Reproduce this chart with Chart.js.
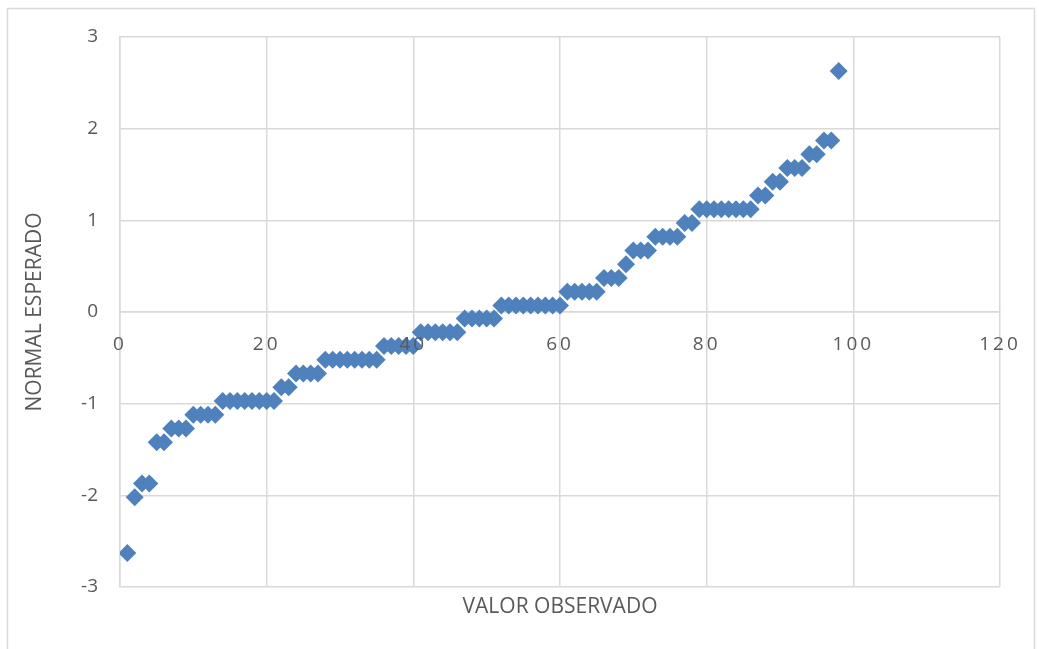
<!DOCTYPE html>
<html><head><meta charset="utf-8">
<script src="https://cdn.jsdelivr.net/npm/chart.js@4.4.1/dist/chart.umd.min.js"></script>
<style>html,body{margin:0;padding:0;background:#fff;overflow:hidden;}</style>
</head><body>
<canvas id="c" width="1039" height="649"></canvas>
<script>
const observed = [1,2,3,4,5,6,7,8,9,10,11,12,13,14,15,16,17,18,19,20,21,22,23,24,25,26,27,28,29,30,31,32,33,34,35,36,37,38,39,40,41,42,43,44,45,46,47,48,49,50,51,52,53,54,55,56,57,58,59,60,61,62,63,64,65,66,67,68,69,70,71,72,73,74,75,76,77,78,79,80,81,82,83,84,85,86,87,88,89,90,91,92,93,94,95,96,97,98];
const expected = [-2.63,-2.02,-1.87,-1.87,-1.42,-1.42,-1.27,-1.27,-1.27,-1.12,-1.12,-1.12,-1.12,
  -0.97,-0.97,-0.97,-0.97,-0.97,-0.97,-0.97,-0.97,-0.82,-0.82,-0.67,-0.67,-0.67,-0.67,
  -0.52,-0.52,-0.52,-0.52,-0.52,-0.52,-0.52,-0.52,-0.37,-0.37,-0.37,-0.37,-0.37,
  -0.22,-0.22,-0.22,-0.22,-0.22,-0.22,-0.07,-0.07,-0.07,-0.07,-0.07,
  0.07,0.07,0.07,0.07,0.07,0.07,0.07,0.07,0.07,0.22,0.22,0.22,0.22,0.22,
  0.37,0.37,0.37,0.52,0.67,0.67,0.67,0.82,0.82,0.82,0.82,0.97,0.97,
  1.12,1.12,1.12,1.12,1.12,1.12,1.12,1.12,1.27,1.27,1.42,1.42,1.57,1.57,1.57,
  1.72,1.72,1.87,1.87,2.63];
const xTicks = [0,20,40,60,80,100,120];
const yTicks = [-3,-2,-1,0,1,2,3];
const xTitle = 'VALOR OBSERVADO';
const yTitle = 'NORMAL ESPERADO';

const FONT = "'Open Sans', 'Noto Sans', sans-serif";
const TEXT = '#595959';
const GRID = '#d9d9d9';

const points = observed.map((x, i) => ({x: x, y: expected[i]}));

const framePlugin = {
  id: 'frame',
  beforeDraw(chart) {
    const ctx = chart.ctx;
    ctx.save();
    ctx.strokeStyle = GRID;
    ctx.lineWidth = 1.5;
    ctx.beginPath();
    ctx.moveTo(7.5, 700); ctx.lineTo(7.5, 8.5); ctx.lineTo(1034.5, 8.5); ctx.lineTo(1034.5, 700);
    ctx.stroke();
    ctx.restore();
    const s = chart.scales.x;
    if (s && !s._spaced) {
      const orig = s.drawLabels;
      s.drawLabels = function(area) {
        const c = this.ctx; c.save(); c.letterSpacing = '3px'; orig.call(this, area); c.restore();
      };
      s._spaced = true;
    }
  }
};

new Chart(document.getElementById('c'), {
  type: 'scatter',
  data: { datasets: [{
    data: points,
    pointStyle: 'rectRot',
    pointRadius: 9,
    pointHoverRadius: 9,
    backgroundColor: '#4f81bd',
    borderColor: '#4f81bd',
    borderWidth: 0
  }]},
  options: {
    responsive: false,
    animation: false,
    layout: { padding: { left: 0, right: 39, top: 37, bottom: 0 } },
    plugins: {
      legend: { display: false },
      tooltip: { enabled: false },
      title: {
        display: true, position: 'bottom', fullSize: false,
        text: xTitle, color: TEXT,
        font: { family: FONT, size: 21, weight: 'normal', lineHeight: 1.2 },
        padding: { top: 7.4, bottom: 29.4 }
      }
    },
    scales: {
      x: {
        type: 'linear', position: { y: 0 }, min: 0, max: 120,
        afterBuildTicks: s => { s.ticks = xTicks.map(v => ({ value: v })); },
        grid: { color: GRID, lineWidth: 1.5, drawTicks: false },
        border: { color: GRID, width: 1.5 },
        ticks: { color: TEXT, padding: 21.6, z: 1, maxRotation: 0, font: { family: FONT, size: 19 } }
      },
      y: {
        type: 'linear', position: 'left', min: -3, max: 3,
        afterBuildTicks: s => { s.ticks = yTicks.map(v => ({ value: v })); },
        afterFit: s => { s.width = 120; },
        grid: { color: GRID, lineWidth: 1.5, drawTicks: false },
        border: { color: GRID, width: 1.5 },
        ticks: { color: TEXT, padding: 22, font: { family: FONT, size: 19 } },
        title: {
          display: true, text: yTitle, color: TEXT,
          font: { family: FONT, size: 21, weight: 'normal', lineHeight: 1.2 },
          padding: { top: 22.4, bottom: 0 }
        }
      }
    }
  },
  plugins: [framePlugin]
});
</script>
</body></html>
